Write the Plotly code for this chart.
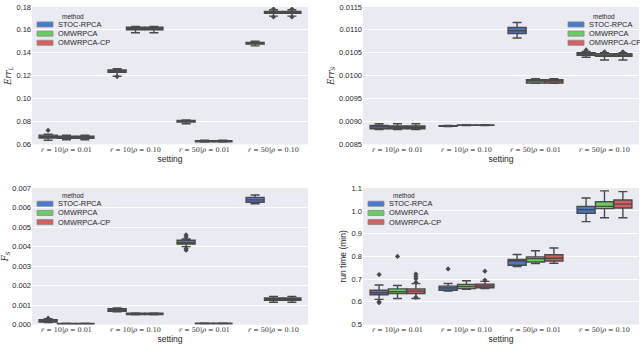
import plotly.graph_objects as go
from plotly.subplots import make_subplots

settings = ['<i>r</i> = 10|<i>ρ</i> = 0.01', '<i>r</i> = 10|<i>ρ</i> = 0.10',
            '<i>r</i> = 50|<i>ρ</i> = 0.01', '<i>r</i> = 50|<i>ρ</i> = 0.10']
methods = ['STOC-RPCA', 'OMWRPCA', 'OMWRPCA-CP']
colors = ['#4878CF', '#6ACC65', '#D65F5F']

# box stats per panel: [method][setting] -> (low whisker, q1, median, q3, high whisker)
err_l = [
    [(0.0635, 0.0655, 0.0667, 0.0680, 0.0688), (0.1195, 0.1230, 0.1238, 0.1250, 0.1260),
     (0.0780, 0.0795, 0.0800, 0.0808, 0.0812), (0.1460, 0.1475, 0.1482, 0.1490, 0.1500)],
    [(0.0640, 0.0652, 0.0660, 0.0670, 0.0680), (0.1575, 0.1600, 0.1612, 0.1622, 0.1630),
     (0.0620, 0.0623, 0.0627, 0.0632, 0.0637), (0.1720, 0.1745, 0.1752, 0.1760, 0.1775)],
    [(0.0640, 0.0652, 0.0660, 0.0670, 0.0680), (0.1575, 0.1600, 0.1612, 0.1622, 0.1630),
     (0.0620, 0.0623, 0.0627, 0.0632, 0.0637), (0.1720, 0.1745, 0.1752, 0.1760, 0.1775)],
]
err_s = [
    [(0.00882, 0.00884, 0.00888, 0.00891, 0.00895), (0.00889, 0.008895, 0.00890, 0.008905, 0.00891),
     (0.01082, 0.01092, 0.01098, 0.01105, 0.01116), (0.01040, 0.010445, 0.01047, 0.01050, 0.01053)],
    [(0.00882, 0.00884, 0.00887, 0.00890, 0.00895), (0.00891, 0.008915, 0.00892, 0.008925, 0.00893),
     (0.00983, 0.00984, 0.00988, 0.00991, 0.00993), (0.01034, 0.010424, 0.01044, 0.01048, 0.01050)],
    [(0.00882, 0.00884, 0.00887, 0.00890, 0.00895), (0.00891, 0.008915, 0.00892, 0.008925, 0.00893),
     (0.00983, 0.00984, 0.00988, 0.00991, 0.00993), (0.01034, 0.010424, 0.01044, 0.01048, 0.01050)],
]
f_s = [
    [(0.00010, 0.00013, 0.00020, 0.00025, 0.00030), (0.00065, 0.00068, 0.00075, 0.00082, 0.00085),
     (0.00400, 0.00413, 0.00420, 0.00433, 0.00440), (0.00620, 0.00628, 0.00640, 0.00653, 0.00665)],
    [(0.00001, 0.00002, 0.00004, 0.00006, 0.00007), (0.00050, 0.00052, 0.00055, 0.00058, 0.00060),
     (0.00002, 0.00003, 0.00005, 0.00007, 0.00008), (0.00115, 0.00125, 0.00130, 0.00137, 0.00145)],
    [(0.00001, 0.00002, 0.00004, 0.00006, 0.00007), (0.00050, 0.00052, 0.00055, 0.00058, 0.00060),
     (0.00002, 0.00003, 0.00005, 0.00007, 0.00008), (0.00115, 0.00125, 0.00130, 0.00137, 0.00145)],
]
run_time = [
    [(0.611, 0.631, 0.640, 0.651, 0.674), (0.648, 0.651, 0.661, 0.669, 0.681),
     (0.755, 0.761, 0.780, 0.786, 0.808), (0.953, 0.990, 1.005, 1.020, 1.057)],
    [(0.615, 0.637, 0.645, 0.657, 0.672), (0.655, 0.659, 0.668, 0.677, 0.693),
     (0.768, 0.775, 0.790, 0.798, 0.825), (0.970, 1.010, 1.020, 1.040, 1.088)],
    [(0.615, 0.637, 0.647, 0.657, 0.680), (0.658, 0.662, 0.670, 0.678, 0.690),
     (0.770, 0.780, 0.792, 0.807, 0.837), (0.970, 1.013, 1.030, 1.048, 1.085)],
]

# outliers: [method] -> list of (setting index, value)
err_l_out = [[(0, 0.0722), (1, 0.1192)], [(3, 0.1782), (3, 0.1712)], [(3, 0.1782), (3, 0.1712)]]
err_s_out = [[(3, 0.01056)], [(3, 0.01052)], [(3, 0.01052)]]
f_s_out = [[(0, 0.00033), (2, 0.00460), (2, 0.00450), (2, 0.00390), (2, 0.00382)], [], []]
run_time_out = [[(0, 0.720), (0, 0.600), (0, 0.596), (1, 0.745)],
                [(0, 0.800)],
                [(0, 0.722), (0, 0.712), (0, 0.702), (0, 0.686), (0, 0.620), (1, 0.735), (1, 0.696)]]

# stats, outliers, row, col, y title, y range, tick step, tick format, legend pixel anchor (rect x, first row y)
panels = [
    (err_l, err_l_out, 1, 1, '<i>Err</i><sub><i>L</i></sub>', [0.06, 0.18], 0.02, '.2f', (37, 21)),
    (err_s, err_s_out, 1, 2, '<i>Err</i><sub><i>S</i></sub>', [0.0085, 0.0115], 0.0005, '.4f', (568, 21)),
    (f_s, f_s_out, 2, 1, '<i>F</i><sub><i>S</i></sub>', [0, 0.007], 0.001, '.3f', (37, 205)),
    (run_time, run_time_out, 2, 2, 'run time (min)', [0.5, 1.1], 0.1, '.1f', (368, 205)),
]

W, H = 640, 352
fig = make_subplots(rows=2, cols=2)
bw = 0.8 / 3
line_col = '#4a4a4a'
dom_x = {1: [32 / W, 308 / W], 2: [363 / W, 639 / W]}
dom_y = {1: [1 - 144 / H, 1 - 3 / H], 2: [1 - 329 / H, 1 - 189 / H]}

for stats, outs, r, c, ytitle, yr, dt, fmt, (lx, ly) in panels:
    for m, name in enumerate(methods):
        off = (m - 1) * bw
        xs = [i + off for i in range(len(settings))]
        fig.add_trace(go.Box(
            x=xs,
            lowerfence=[s[0] for s in stats[m]], q1=[s[1] for s in stats[m]],
            median=[s[2] for s in stats[m]], q3=[s[3] for s in stats[m]],
            upperfence=[s[4] for s in stats[m]],
            width=bw * 0.98, fillcolor=colors[m], line=dict(color=line_col, width=1.4),
            whiskerwidth=0.5, name=name, showlegend=False, boxpoints=False, hoverinfo='y'),
            row=r, col=c)
        if outs[m]:
            fig.add_trace(go.Scatter(
                x=[o[0] + off for o in outs[m]], y=[o[1] for o in outs[m]], mode='markers',
                marker=dict(symbol='diamond', size=4, color=line_col), showlegend=False),
                row=r, col=c)
        # legend entry
        cy = ly + m * 9.4
        fig.add_shape(type='rect', xref='paper', yref='paper',
                      x0=lx / W, x1=(lx + 16) / W, y0=1 - (cy - 2.6) / H, y1=1 - (cy + 2.6) / H,
                      fillcolor=colors[m], line=dict(color='#8a8a8a', width=0.8))
        fig.add_annotation(xref='paper', yref='paper', x=(lx + 19) / W, y=1 - cy / H,
                           text=name, showarrow=False, xanchor='left', yanchor='middle',
                           font=dict(size=7.4, color='#262626'))
    fig.add_annotation(xref='paper', yref='paper', x=(lx + 36) / W, y=1 - (ly - 8.5) / H,
                       text='method', showarrow=False, xanchor='center', yanchor='middle',
                       font=dict(size=6.5, color='#262626'))
    fig.update_xaxes(domain=dom_x[c], range=[-0.5, 3.5], tickvals=list(range(4)), ticktext=settings,
                     showgrid=False, zeroline=False, title_text='setting', title_standoff=2,
                     tickfont=dict(family='DejaVu Serif', size=6.5, color='#262626'),
                     title_font=dict(size=8.5, color='#262626'), ticks='', row=r, col=c)
    tfont = dict(size=8.5, color='#262626')
    if not (r == 2 and c == 2):
        tfont = dict(family='DejaVu Serif', size=8.5, color='#262626')
    fig.update_yaxes(domain=dom_y[r], range=yr, dtick=dt, tickformat=fmt, showgrid=True,
                     gridcolor='white', gridwidth=1, zeroline=False, title_text=ytitle,
                     title_font=tfont, title_standoff=3, tickfont=dict(size=7.5, color='#262626'),
                     ticks='', row=r, col=c)

fig.update_layout(
    width=W, height=H, margin=dict(l=0, r=0, t=0, b=0),
    plot_bgcolor='#EAEAF2', paper_bgcolor='white',
    font=dict(family='Liberation Sans, Arial, sans-serif', color='#262626'),
    boxmode='overlay', showlegend=False,
)

# page body has a default margin; drop it so the figure sits at the window's corner
fig.write_html('out.html', config={'displayModeBar': False},
               post_script="document.body.style.margin='0';document.body.style.overflow='hidden';")
